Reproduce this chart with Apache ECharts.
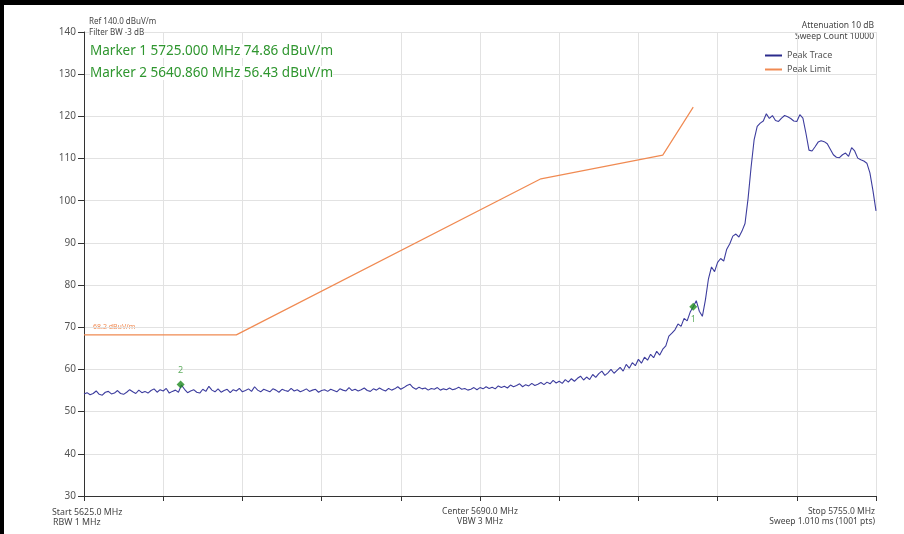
<!DOCTYPE html>
<html><head><meta charset="utf-8">
<script src="https://cdn.jsdelivr.net/npm/echarts@6/dist/echarts.min.js"></script>
<style>html,body{margin:0;padding:0;background:#fff}#c{width:904px;height:534px}</style>
</head><body><div id="c"></div>
<script>
// Sweep definition (1 point every 0.5 MHz)
const sweepStartMHz = 5625.0;
const sweepStopMHz = 5755.0;
const sweepStepMHz = 0.5;
// Peak trace levels, dBuV/m, 5625.0 ... 5755.0 MHz
const peakTrace = [
54.2,54.5,54.0,54.3,54.9,54.1,53.9,54.6,54.8,54.2,
54.4,55.0,54.3,54.1,54.6,55.2,54.7,54.3,55.1,54.5,
54.8,54.4,55.0,55.4,54.6,55.2,54.9,55.5,54.4,54.8,
55.1,54.6,56.3,55.3,54.5,54.9,55.2,54.6,54.4,55.3,
54.8,56.0,55.1,54.7,55.4,54.6,55.0,55.3,54.5,55.2,
54.9,55.5,54.7,55.0,55.4,54.8,55.9,55.1,54.7,55.3,
55.0,54.7,55.4,55.1,54.6,55.3,55.0,54.8,55.5,54.9,
55.2,54.7,55.0,55.4,54.8,55.1,55.3,54.6,55.0,55.2,
54.8,55.3,55.0,54.7,55.4,55.1,54.9,55.7,55.0,55.3,
54.9,55.2,55.6,55.0,54.8,55.4,55.1,55.6,55.2,54.9,
55.5,55.1,55.4,55.9,55.3,55.7,56.2,56.5,55.7,55.3,
55.8,55.4,55.6,55.1,55.5,55.3,55.7,55.1,55.4,55.2,
55.6,55.2,55.4,55.8,55.3,55.5,55.1,55.3,55.7,55.2,
55.7,55.4,55.9,55.5,55.8,55.4,56.1,55.7,56.0,55.6,
56.3,55.9,56.2,56.6,55.9,56.4,56.1,56.7,56.2,56.5,
56.9,56.4,57.0,56.6,57.4,56.8,57.2,56.7,57.6,57.0,
57.8,57.2,57.9,58.4,57.5,58.2,57.6,58.8,58.1,59.0,
59.6,58.6,59.2,60.0,59.1,59.8,60.5,59.6,61.2,60.3,
61.6,60.9,62.4,61.5,62.9,62.2,63.6,62.8,64.3,63.4,
64.8,65.6,67.9,68.6,69.4,70.8,70.2,72.1,71.5,73.6,
74.86,76.3,73.8,72.6,76.5,81.5,84.3,83.2,85.4,86.3,
85.7,88.5,89.8,91.6,92.1,91.4,92.8,94.6,100.5,108.0,
114.5,117.6,118.4,118.9,120.6,119.5,120.2,119.0,118.8,119.6,
120.2,119.9,119.5,118.9,118.8,120.4,119.6,116.0,112.0,111.8,
112.8,113.9,114.2,114.0,113.5,112.2,110.9,110.3,110.2,110.9,
111.3,110.5,112.6,111.8,110.1,109.7,109.4,108.9,106.6,102.4,
97.6
];
// Peak limit mask
const limitFreqMHz = [5625, 5650, 5700, 5720, 5725];
const limitLevel = [68.2, 68.2, 105.2, 110.8, 122.2];
// Markers
const markerNames = ['1', '2'];
const markerFreqMHz = [5725.000, 5640.860];
const markerLevel = [74.86, 56.43];
// Axis
const yMin = 30, yMax = 140, yStep = 10;
const xDivisions = 10;
const xLabelLines = [
  ['Start 5625.0 MHz', 'RBW 1 MHz'],
  ['Center 5690.0 MHz', 'VBW 3 MHz'],
  ['Stop 5755.0 MHz', 'Sweep 1.010 ms (1001 pts)']
];
const headerLeft = ['Ref 140.0 dBuV/m', 'Filter BW -3 dB'];
const headerRight = ['Attenuation 10 dB', 'Sweep Count 10000'];
const limitLabel = '68.2 dBuV/m';

const FONT = '"Noto Sans", "Open Sans", sans-serif';
const span = sweepStopMHz - sweepStartMHz;
const traceData = peakTrace.map((v, i) => [i * sweepStepMHz, v]);
const limitData = limitFreqMHz.map((f, i) => [f - sweepStartMHz, limitLevel[i]]);
const markerData = markerNames.map((n, i) => ({
  name: n,
  value: [markerFreqMHz[i] - sweepStartMHz, markerLevel[i]],
  label: { position: n === '1' ? 'bottom' : 'top', distance: n === '1' ? 4 : 6 }
}));
const markerText = markerNames.map((n, i) =>
  'Marker ' + n + ' ' + markerFreqMHz[i].toFixed(3) + ' MHz ' + markerLevel[i].toFixed(2) + ' dBuV/m');

const chart = echarts.init(document.getElementById('c'), null, { renderer: 'canvas' });
const small = { fontFamily: FONT, fontSize: 8.5, fill: '#444' };
const hdr = { fontFamily: FONT, fontSize: 8, fill: '#444', backgroundColor: '#fff' };
chart.setOption({
  backgroundColor: '#fff',
  animation: false,
  grid: { left: 84, right: 28, top: 32, bottom: 38 },
  legend: {
    data: ['Peak Trace', 'Peak Limit'],
    orient: 'vertical', left: 765, top: 51, padding: 0, itemGap: 5,
    itemWidth: 17, itemHeight: 2, icon: 'rect',
    textStyle: { fontFamily: FONT, fontSize: 9, color: '#555' }
  },
  xAxis: {
    type: 'value', min: 0, max: span, interval: span / xDivisions,
    axisLine: { lineStyle: { color: '#333', width: 1 } },
    axisTick: { show: true, length: 5, lineStyle: { color: '#333' } },
    axisLabel: { show: false },
    splitLine: { show: true, lineStyle: { color: '#e2e2e2', width: 1 } }
  },
  yAxis: {
    type: 'value', min: yMin, max: yMax, interval: yStep,
    axisLine: { show: true, lineStyle: { color: '#333', width: 1 } },
    axisTick: { show: true, length: 6, lineStyle: { color: '#333' } },
    axisLabel: { margin: 8, fontFamily: FONT, fontSize: 10, color: '#555' },
    splitLine: { show: true, lineStyle: { color: '#e2e2e2', width: 1 } }
  },
  series: [
    {
      name: 'Peak Limit', type: 'line', data: limitData, showSymbol: false,
      lineStyle: { color: '#f08a52', width: 1.2 }, itemStyle: { color: '#f08a52' }, z: 2
    },
    {
      name: 'Peak Trace', type: 'line', data: traceData, showSymbol: false,
      lineStyle: { color: '#3d3d9e', width: 1.1 }, itemStyle: { color: '#2b2b8c' }, z: 3
    },
    {
      name: 'Markers', type: 'scatter', data: markerData, symbol: 'diamond', symbolSize: 8,
      itemStyle: { color: '#1e8a1e' }, z: 5,
      label: { show: true, formatter: p => p.name, fontFamily: FONT, fontSize: 9, color: '#3a9a3a' }
    }
  ],
  graphic: [
    { type: 'rect', shape: { x: 0, y: 0, width: 904, height: 5 }, style: { fill: '#000' }, z: 100 },
    { type: 'rect', shape: { x: 0, y: 0, width: 4, height: 534 }, style: { fill: '#000' }, z: 100 },
    { type: 'text', z: 50, style: Object.assign({ text: headerLeft[0], x: 89, y: 22, textVerticalAlign: 'middle' }, hdr) },
    { type: 'text', z: 50, style: Object.assign({ text: headerLeft[1], x: 89, y: 33, textVerticalAlign: 'middle' }, hdr) },
    { type: 'text', z: 50, style: { text: markerText[0], x: 90, y: 51, textVerticalAlign: 'middle', fontFamily: FONT, fontSize: 13.5, fill: '#2f962f', backgroundColor: '#fff' } },
    { type: 'text', z: 50, style: { text: markerText[1], x: 90, y: 73, textVerticalAlign: 'middle', fontFamily: FONT, fontSize: 13.5, fill: '#2f962f', backgroundColor: '#fff' } },
    { type: 'text', style: Object.assign({ text: headerRight[0], x: 874, y: 26, textAlign: 'right', textVerticalAlign: 'middle' }, small) },
    { type: 'text', style: Object.assign({ text: headerRight[1], x: 874, y: 37, textAlign: 'right', textVerticalAlign: 'middle' }, small) },
    { type: 'text', style: { text: limitLabel, x: 93, y: 327, textVerticalAlign: 'middle', fontFamily: FONT, fontSize: 7, fill: '#f08a52' } },
    { type: 'text', style: Object.assign({ text: xLabelLines[0][0], x: 52, y: 512, textVerticalAlign: 'middle' }, small, { fontSize: 8.8 }) },
    { type: 'text', style: Object.assign({ text: xLabelLines[0][1], x: 53, y: 522, textVerticalAlign: 'middle' }, small, { fontSize: 8.8 }) },
    { type: 'text', style: Object.assign({ text: xLabelLines[1][0], x: 480, y: 512, textAlign: 'center', textVerticalAlign: 'middle' }, small) },
    { type: 'text', style: Object.assign({ text: xLabelLines[1][1], x: 480, y: 522, textAlign: 'center', textVerticalAlign: 'middle' }, small) },
    { type: 'text', style: Object.assign({ text: xLabelLines[2][0], x: 875, y: 512, textAlign: 'right', textVerticalAlign: 'middle' }, small) },
    { type: 'text', style: Object.assign({ text: xLabelLines[2][1], x: 875, y: 522, textAlign: 'right', textVerticalAlign: 'middle' }, small) }
  ]
});
</script></body></html>
